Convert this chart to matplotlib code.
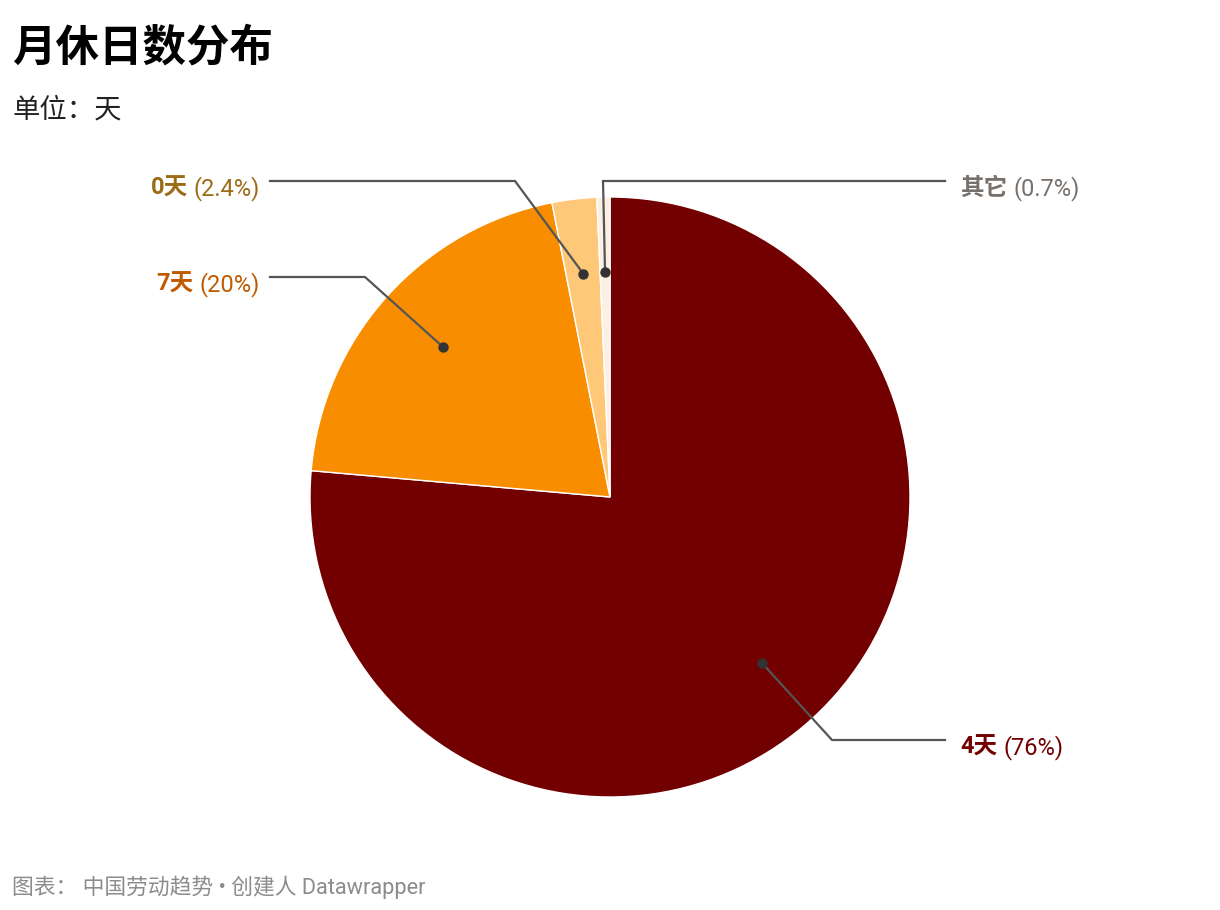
import matplotlib
matplotlib.use("Agg")
import matplotlib.pyplot as plt
import numpy as np

categories = ["4天", "7天", "0天", "其它"]
values = [76.4, 20.5, 2.4, 0.7]
pct_labels = ["(76%)", "(20%)", "(2.4%)", "(0.7%)"]
colors = ["#730000", "#f98d00", "#ffc878", "#fbf0e4"]
label_colors = ["#730000", "#c05a00", "#9c6b16", "#78716b"]

title = "月休日数分布"
subtitle = "单位：天"
footer = "图表： 中国劳动趋势 • 创建人 Datawrapper"

W, H = 1220, 910
fig = plt.figure(figsize=(W / 100, H / 100), dpi=100)
fig.patch.set_facecolor("white")

# pie axes: centre (610, 497), radius 300 px
cx, cy, R = 610, 497, 300
pax = fig.add_axes([(cx - R) / W, (H - cy - R) / H, 2 * R / W, 2 * R / H])
wedges, _ = pax.pie(values, colors=colors, startangle=90, counterclock=False,
                    radius=1, wedgeprops=dict(edgecolor="white", linewidth=1.0))
pax.set_xlim(-1, 1)
pax.set_ylim(-1, 1)
pax.set_aspect("equal")
pax.axis("off")

# overlay axes in pixel coords
ov = fig.add_axes([0, 0, 1, 1], zorder=5)
ov.set_xlim(0, W)
ov.set_ylim(H, 0)
ov.axis("off")

latin_cjk = ["Roboto", "Noto Sans CJK SC"]
cjk_first = ["Noto Sans CJK SC", "Roboto"]

ov.text(12, 47, title, fontsize=31.3, fontweight="bold", family=cjk_first,
        color="#000000", va="center", ha="left")
ov.text(12, 110, subtitle, fontsize=19.7, family=cjk_first,
        color="#222222", va="center", ha="left")
ov.text(12, 887, footer, fontsize=15.7, family=latin_cjk,
        color="#8c8c8c", va="center", ha="left")

# leader layout: (elbow x, line y, line end x, side)
layout = {
    "4天": (832, 740, 945, "right"),
    "7天": (365, 277, 270, "left"),
    "0天": (515, 181, 270, "left"),
    "其它": (603, 181, 945, "right"),
}

fig.canvas.draw()
renderer = fig.canvas.get_renderer()
fs = 17
for w, cat, pct, lc in zip(wedges, categories, pct_labels, label_colors):
    mid = np.deg2rad((w.theta1 + w.theta2) / 2)
    dx = cx + 0.75 * R * np.cos(mid)
    dy = cy - 0.75 * R * np.sin(mid)
    ex, ly, endx, side = layout[cat]
    ov.plot([dx, ex, endx], [dy, ly, ly], color="#555555", lw=1.6,
            solid_joinstyle="miter", zorder=6)
    ov.plot([dx], [dy], "o", color="#333333", ms=6.5, zorder=7)
    ty = ly + 7.5
    if side == "right":
        t1 = ov.text(960, ty, cat, fontsize=fs, fontweight="bold", family=latin_cjk,
                     color=lc, va="center", ha="left")
        bb = t1.get_window_extent(renderer)
        x2 = bb.x1 + 6
        ov.text(x2, ty, pct, fontsize=fs, family=latin_cjk,
                color=lc, va="center", ha="left")
    else:
        t2 = ov.text(260, ty, pct, fontsize=fs, family=latin_cjk,
                     color=lc, va="center", ha="right")
        bb = t2.get_window_extent(renderer)
        x1 = bb.x0 - 6
        ov.text(x1, ty, cat, fontsize=fs, fontweight="bold", family=latin_cjk,
                color=lc, va="center", ha="right")

fig.savefig("out.png", dpi=100, facecolor="white")
